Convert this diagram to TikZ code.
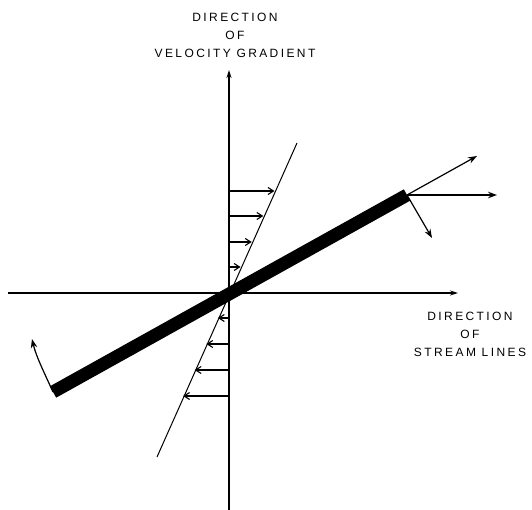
\documentclass[tikz,border=0pt]{standalone}
\usepackage{fontspec}
\newfontfamily\capsfont[LetterSpace=20]{Liberation Sans}
\usetikzlibrary{arrows.meta}
\begin{document}
\begin{tikzpicture}[x=1pt, y=-1pt,
    axis/.style={line width=1.3pt, -{Stealth[length=8pt,width=5pt]}},
    flow/.style={line width=1.1pt, -{Straight Barb[length=5.5pt,width=7pt]}},
    spin/.style={line width=1.2pt, -{Stealth[length=9pt,width=6.5pt,inset=3pt]}},
    caption/.style={font=\capsfont\fontsize{12}{18}\selectfont, align=center, inner sep=0pt}]
    \useasboundingbox (0,0) rectangle (532,510);

    % Axes
    \coordinate (O) at (229,293);
    \coordinate (xl) at (8,293);
    \coordinate (xr) at (458,293);
    \coordinate (yb) at (229,510);
    \coordinate (yt) at (229,70);
    \draw[axis] (xl) -- (xr);
    \draw[axis] (yb) -- (yt);
    \node[caption] (vgrad) at (235,35) {DIRECTION\\OF\\VELOCITY GRADIENT};
    \node[caption] (stream) at (470,334) {DIRECTION\\OF\\STREAM LINES};

    % Velocity profile
    \coordinate (s1) at (157,457);
    \coordinate (s2) at (297,143);
    \draw[line width=1pt] (s1) -- (s2);
    \foreach \d in {26,51,77,102,-25,-51,-77,-103}
        \draw[flow] ([shift={(0,-\d)}]O) -- ++(0.446*\d,0);

    % Rod
    \coordinate (bl) at (53,392);
    \coordinate (br) at (407,195);
    \draw[line width=13pt] (bl) -- (br);

    % Motion of the rod ends
    \draw[spin] (br) -- (477,156);
    \draw[spin] (br) -- (497,195);
    \draw[spin] (br) -- (432,238);
    \draw[spin] (bl) .. controls (43,370) and (36,356) .. (32,339);
\end{tikzpicture}
\end{document}
